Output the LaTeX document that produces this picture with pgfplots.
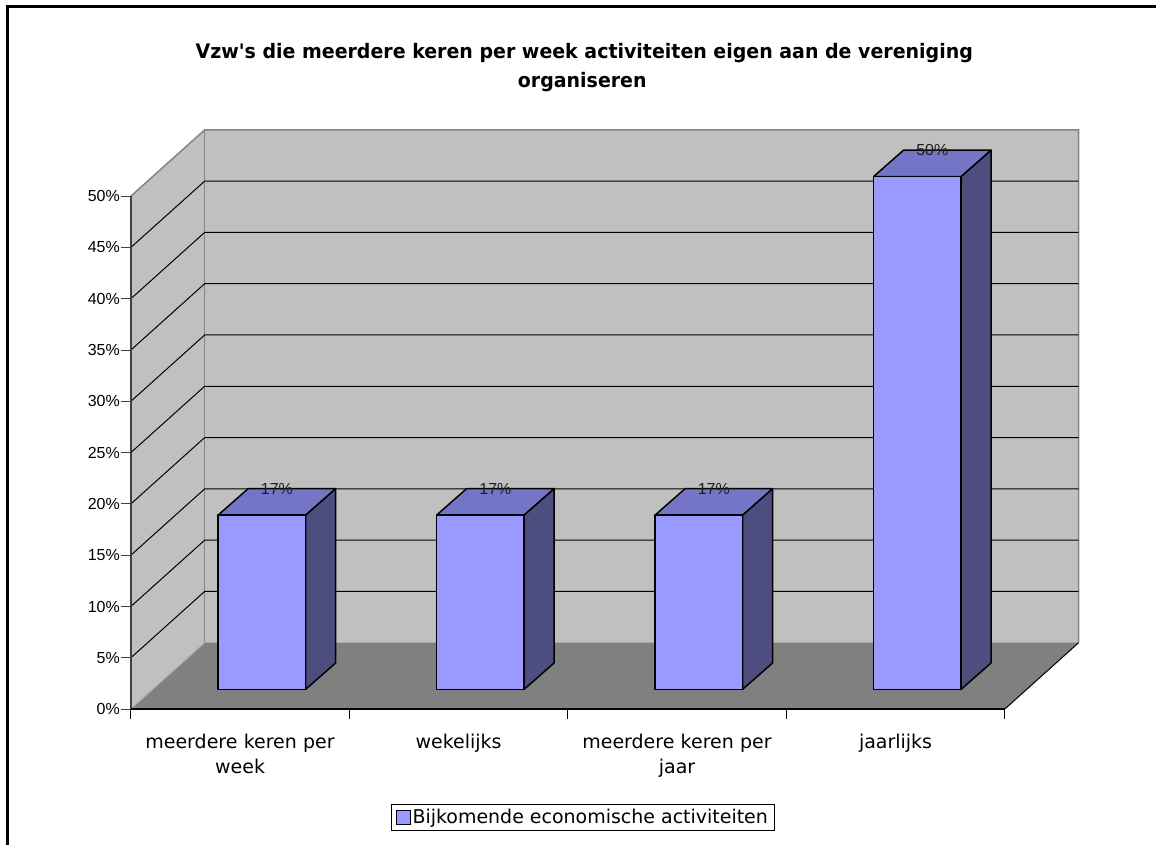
\documentclass[border=0pt]{standalone}
\usepackage{fontspec}
\usepackage{pgfplots}
\usepackage{pgfplotstable}
\pgfplotsset{compat=1.18}
\setmainfont{Liberation Sans}
\newfontfamily\dejavu{DejaVu Sans}
\newfontfamily\titlefam{DejaVu Sans Bold}[FakeStretch=0.95]
\newcommand\tickfont{\fontspec{Liberation Sans}\fontsize{16pt}{18pt}\selectfont}
\newcommand\labfont{\fontsize{16pt}{18pt}\selectfont\color{black!88}}
\newcommand\catfont{\dejavu\fontsize{19pt}{26pt}\selectfont}
\newcommand\legfont{\dejavu\fontsize{19pt}{23pt}\selectfont}
\newcommand\titlefont{\titlefam\fontsize{20pt}{29pt}\selectfont}
\definecolor{wall}{HTML}{C0C0C0}
\definecolor{floorc}{HTML}{808080}
\definecolor{edgegray}{HTML}{858585}
\definecolor{barfront}{HTML}{9999FF}
\definecolor{bartop}{HTML}{7575C8}
\definecolor{barside}{HTML}{4D4D80}

\pgfplotstableread{
x v
0 17
1 17
2 17
3 50
}\data

\begin{document}
\begin{tikzpicture}
\path (0pt,0pt) rectangle (1157pt,-846pt);
\draw[line width=3pt] (7.5pt,-846pt) -- (7.5pt,-6.5pt) -- (1157pt,-6.5pt);
\node[anchor=base, inner sep=0pt, font=\titlefont] at (585pt,-59pt) {Vzw's die meerdere keren per week activiteiten eigen aan de vereniging};
\node[anchor=base, inner sep=0pt, font=\titlefont] at (583pt,-88pt) {organiseren};
\begin{axis}[
  at={(131pt,-710pt)}, anchor=south west,
  scale only axis, width=949pt, height=580pt,
  xmin=0, xmax=4.338, ymin=0, ymax=56.47,
  axis x line*=bottom, axis y line*=left,
  axis line style={draw=none},
  tick align=outside,
  clip=false,
  xtick={0,1,2,3,4}, xticklabels={},
  x tick style={black, line width=1.2pt},
  extra x ticks={0.5,1.5,2.5,3.5},
  extra x tick labels={{meerdere keren per\\week}, wekelijks, {meerdere keren per\\jaar}, jaarlijks},
  extra x tick style={major tick length=0pt, tick style={draw=none}},
  xticklabel style={font=\catfont, text width=230pt, align=center, yshift=-21pt},
  ytick={0,5,...,50},
  yticklabel={\pgfmathprintnumber{\tick}\%},
  yticklabel style={font=\tickfont, xshift=2pt},
  y tick style={black!75, line width=1pt},
  major tick length=9.5pt,
  /pgf/number format/assume math mode=true,
  legend style={at={(0.4768,-0.1871)}, anchor=center, draw=black, line width=0.7pt,
    font=\legfont, inner xsep=4pt, inner ysep=3pt},
  legend cell align=left,
]
% back wall
\fill[wall] (axis cs:0.338,6.47) rectangle (axis cs:4.338,56.47);
% left wall
\fill[wall] (axis cs:0,0) -- (axis cs:0.338,6.47) -- (axis cs:0.338,56.47) -- (axis cs:0,50) -- cycle;
% floor
\fill[floorc] (axis cs:0,0) -- (axis cs:4,0) -- (axis cs:4.338,6.47) -- (axis cs:0.338,6.47) -- cycle;
% wall outlines
\draw[edgegray, line width=1.5pt] (axis cs:0,50) -- (axis cs:0.338,56.47) -- (axis cs:4.338,56.47) -- (axis cs:4.338,6.47);
\draw[edgegray, line width=1.5pt] (axis cs:0.338,6.47) -- (axis cs:0.338,56.47);
\draw[edgegray!70!white, line width=1pt] (axis cs:0,0) -- (axis cs:0.338,6.47);
% gridlines
\pgfplotsinvokeforeach{5,10,...,45}{
  \draw[black, line width=1pt] (axis cs:0,#1) -- (axis cs:0.338,{#1+6.47}) -- (axis cs:4.338,{#1+6.47});
}
% floor right edge
\draw[black, line width=1pt] (axis cs:4,0) -- (axis cs:4.338,6.47);
% axes
\draw[black!75, line width=1.5pt] (axis cs:0,0) -- (axis cs:0,50);
\draw[black, line width=2pt] (axis cs:0,0) -- (axis cs:4,0);
% bars
\pgfplotsinvokeforeach{0,1,2,3}{
  \pgfplotstablegetelem{#1}{v}\of\data
  \let\vv\pgfplotsretval
  \pgfmathsetmacro\xa{#1+0.4}
  \pgfmathsetmacro\xb{#1+0.8}
  \pgfmathsetmacro\xc{#1+0.4+0.137}
  \pgfmathsetmacro\xd{#1+0.8+0.137}
  \pgfmathsetmacro\xl{#1+0.6+0.0685}
  \pgfmathsetmacro\ya{1.92}
  \pgfmathsetmacro\yb{1.92+\vv}
  \pgfmathsetmacro\yc{1.92+2.57}
  \pgfmathsetmacro\yd{1.92+2.57+\vv}
  \edef\tmp{
    \noexpand\addplot[forget plot, fill=barside, draw=black, line width=1.5pt, line join=round] coordinates {(\xb,\ya) (\xd,\yc) (\xd,\yd) (\xb,\yb)} -- cycle;
    \noexpand\addplot[forget plot, fill=bartop, draw=black, line width=1.5pt, line join=round] coordinates {(\xa,\yb) (\xb,\yb) (\xd,\yd) (\xc,\yd)} -- cycle;
    \noexpand\addplot[forget plot, fill=barfront, draw=black, line width=1.5pt, line join=round] coordinates {(\xa,\ya) (\xb,\ya) (\xb,\yb) (\xa,\yb)} -- cycle;
    \noexpand\node[inner sep=0pt, font=\noexpand\labfont] at (axis cs:\xl,\yd) {\vv\noexpand\%};
  }
  \tmp
}
\addlegendimage{legend image code/.code={\draw[fill=barfront, draw=black, line width=1pt] (0pt,-7pt) rectangle (14pt,7pt);}}
\addlegendentry{Bijkomende economische activiteiten}
\end{axis}
\end{tikzpicture}
\end{document}
